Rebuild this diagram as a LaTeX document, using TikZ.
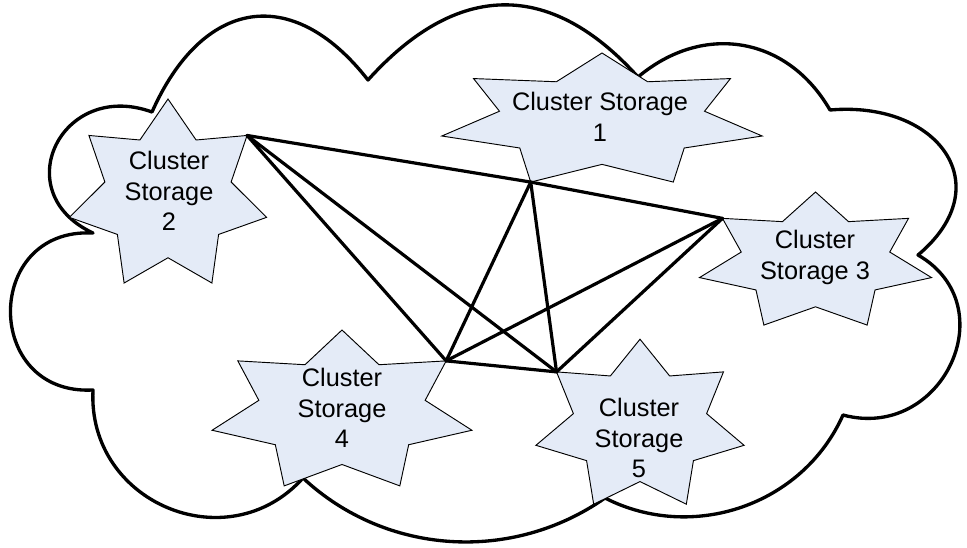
\documentclass[tikz,border=0pt]{standalone}
\usepackage{fontspec}
\setmainfont{Liberation Sans}
\definecolor{starfill}{RGB}{228,235,247}
\tikzset{
  cloudline/.style={line width=2.5pt, line join=round},
  starbody/.style={fill=starfill, draw=black, line width=0.7pt, line join=miter},
  link/.style={line width=2.4pt, line cap=round},
  lbl/.style={align=center, font=\fontsize{19}{23}\selectfont, inner sep=0pt},
  % seven-pointed star; #1 is the outer radius
  cstar/.pic={
    \path[starbody] (90:#1) -- (115.714:{0.64*#1}) -- (141.429:#1) -- (167.143:{0.64*#1})
      -- (192.857:#1) -- (218.571:{0.64*#1}) -- (244.286:#1) -- (270:{0.64*#1})
      -- (295.714:#1) -- (321.429:{0.64*#1}) -- (347.143:#1) -- (12.857:{0.64*#1})
      -- (38.571:#1) -- (64.286:{0.64*#1}) -- cycle;
    \coordinate (-ur) at (38.571:#1);
    \coordinate (-ul) at (141.429:#1);
    \coordinate (-ll) at (244.286:#1);
  }
}
\begin{document}
\begin{tikzpicture}[x=0.75pt, y=0.75pt]
\useasboundingbox (0,0) rectangle (967,-547);

% cloud outline
\draw[cloudline, fill=white] (152,-112)
  to[out=66,in=128,looseness=1.45] (368,-80)
  to[out=48,in=132,looseness=1.25] (638,-77)
  to[out=40,in=120,looseness=1.12] (830,-110)
  to[out=5,in=40,looseness=1.63] (918,-255)
  to[out=-30,in=-15,looseness=1.48] (843,-415)
  to[out=-114,in=-27,looseness=1.0] (605,-498)
  to[out=-145,in=-43,looseness=0.96] (303,-478)
  to[out=-132,in=-93,looseness=1.27] (93,-390)
  to[out=183,in=177,looseness=1.8] (93,-233)
  to[out=155,in=160,looseness=1.83] (152,-112) -- cycle;

% storage stars
\pic[xscale=2.42] (s1) at (602,-120.9) {cstar=67.9};
\pic[xscale=1.045] (s2) at (168,-195.8) {cstar=96.8};
\pic[xscale=1.70] (s3) at (815.5,-262) {cstar=70};
\pic[xscale=1.625] (s4) at (342,-412) {cstar=82};
\pic[xscale=1.23] (s5) at (640,-426) {cstar=86.8};

% mesh between the clusters
\draw[link] (s2-ur) -- (s1-ll);
\draw[link] (s2-ur) -- (s4-ur);
\draw[link] (s2-ur) -- (s5-ul);
\draw[link] (s1-ll) -- (s3-ul);
\draw[link] (s1-ll) -- (s4-ur);
\draw[link] (s1-ll) -- (s5-ul);
\draw[link] (s3-ul) -- (s4-ur);
\draw[link] (s3-ul) -- (s5-ul);
\draw[link] (s4-ur) -- (s5-ul);

% labels
\node[lbl] (n1) at (600,-117) {Cluster Storage\\1};
\node[lbl] (n2) at (169,-191) {Cluster\\Storage\\2};
\node[lbl] (n3) at (815,-257.5) {Cluster\\Storage 3};
\node[lbl] (n4) at (342,-408) {Cluster\\Storage\\4};
\node[lbl] (n5) at (639,-438) {Cluster\\Storage\\5};
\end{tikzpicture}
\end{document}
